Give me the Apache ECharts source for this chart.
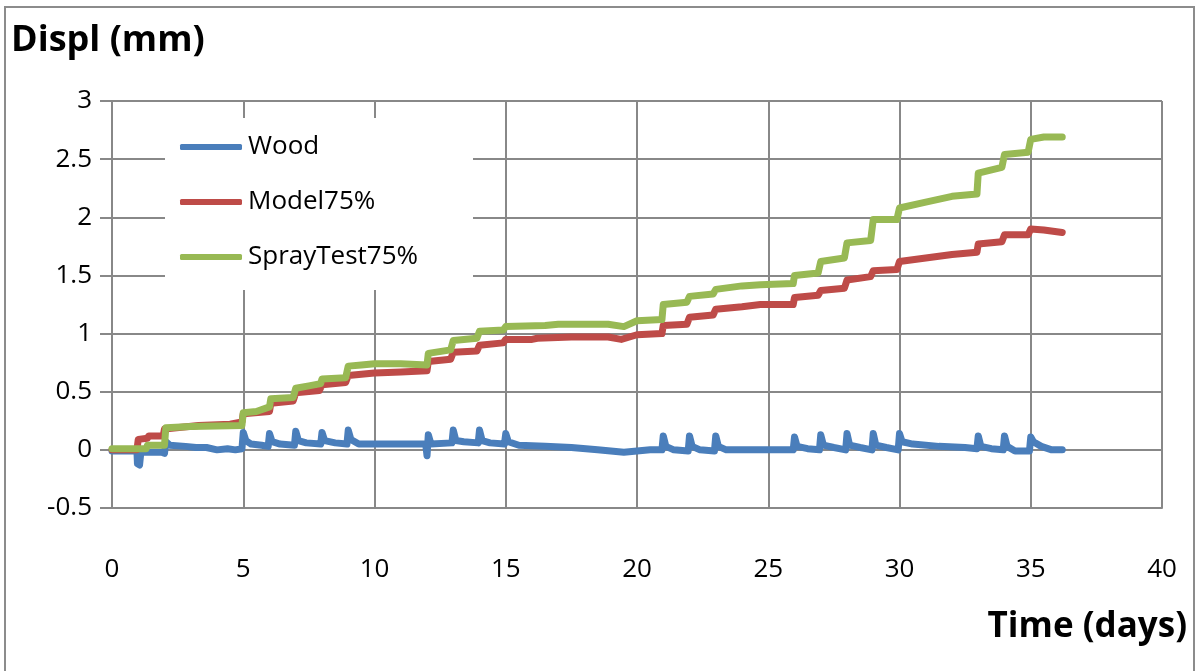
<!DOCTYPE html>
<html>
<head>
<meta charset="utf-8">
<script src="https://cdn.jsdelivr.net/npm/echarts@6/dist/echarts.min.js"></script>
<style>
  html, body { margin: 0; padding: 0; background: #fff; }
  #frame { position: absolute; left: 4px; top: 6px; width: 1191px; height: 720px; border: 2px solid #8c8c8c; box-sizing: border-box; }
  #chart { position: absolute; left: 0; top: 0; width: 1200px; height: 671px; }
</style>
</head>
<body>
<div id="frame"></div>
<div id="chart"></div>
<script>
// Displacement over time, [day, mm] readings
const seriesNames = ['Wood', 'Model75%', 'SprayTest75%'];

const wood = [
  [0, -0.01], [0.95, -0.01], [0.97, -0.12], [1.05, -0.13], [1.1, -0.02], [1.9, -0.02], [2.0, -0.03],
  [2.05, 0.07], [2.2, 0.04], [2.8, 0.03], [3.2, 0.02], [3.6, 0.02], [4.0, 0.0], [4.4, 0.01], [4.7, 0.0],
  [4.95, 0.01], [5.0, 0.15], [5.1, 0.08], [5.3, 0.05], [5.7, 0.04], [5.95, 0.03], [6.0, 0.14], [6.1, 0.07],
  [6.4, 0.05], [6.95, 0.04], [7.0, 0.16], [7.1, 0.08], [7.4, 0.06], [7.95, 0.05], [8.0, 0.15], [8.1, 0.08],
  [8.5, 0.06], [8.95, 0.05], [9.0, 0.17], [9.1, 0.09], [9.4, 0.05], [10, 0.05], [11, 0.05], [11.95, 0.05],
  [12.0, -0.05], [12.05, 0.13], [12.15, 0.05], [12.95, 0.06], [13.0, 0.17], [13.1, 0.08], [13.4, 0.07],
  [13.95, 0.06], [14.0, 0.17], [14.1, 0.08], [14.4, 0.06], [14.95, 0.05], [15.0, 0.14], [15.1, 0.07],
  [15.5, 0.04], [16.5, 0.03], [17.5, 0.02], [18.5, 0.0], [19.5, -0.02], [20.0, -0.01], [20.5, 0.0],
  [20.95, 0.0], [21.0, 0.12], [21.1, 0.03], [21.4, 0.0], [21.95, -0.01], [22.0, 0.12], [22.1, 0.03],
  [22.4, 0.0], [22.95, -0.01], [23.0, 0.12], [23.1, 0.03], [23.4, 0.0], [25.95, 0.0], [26.0, 0.11],
  [26.1, 0.03], [26.5, 0.01], [26.95, 0.0], [27.0, 0.13], [27.1, 0.04], [27.5, 0.02], [27.95, 0.0],
  [28.0, 0.14], [28.1, 0.04], [28.5, 0.02], [28.95, 0.0], [29.0, 0.14], [29.1, 0.04], [29.5, 0.02],
  [29.95, 0.0], [30.0, 0.14], [30.1, 0.07], [30.5, 0.05], [31.5, 0.03], [32.5, 0.02], [32.95, 0.01],
  [33.0, 0.12], [33.1, 0.03], [33.5, 0.01], [33.95, 0.0], [34.0, 0.12], [34.1, 0.03], [34.4, -0.01],
  [34.95, -0.01], [35.0, 0.11], [35.1, 0.07], [35.4, 0.03], [35.8, 0.0], [36.2, 0.0]
];

const model75 = [
  [0, 0.0], [0.95, 0.0], [1.0, 0.09], [1.35, 0.1], [1.4, 0.12], [1.95, 0.12], [2.0, 0.18], [3.3, 0.21],
  [4.5, 0.22], [4.95, 0.24], [5.0, 0.31], [6.0, 0.33], [6.05, 0.4], [6.9, 0.42], [7.0, 0.49], [7.9, 0.51],
  [8.0, 0.56], [8.9, 0.58], [9.0, 0.64], [10.0, 0.66], [11.0, 0.67], [12.0, 0.68], [12.05, 0.76],
  [12.9, 0.78], [13.0, 0.84], [13.9, 0.85], [14.0, 0.9], [14.9, 0.92], [15.0, 0.95], [16.0, 0.95],
  [16.2, 0.96], [17.5, 0.97], [18.9, 0.97], [19.4, 0.95], [20.0, 0.99], [20.95, 1.0], [21.0, 1.07],
  [21.9, 1.08], [22.0, 1.14], [22.9, 1.16], [23.0, 1.21], [24.0, 1.23], [24.7, 1.25], [25.95, 1.25],
  [26.0, 1.31], [26.9, 1.33], [27.0, 1.37], [27.9, 1.39], [28.0, 1.46], [28.9, 1.49], [29.0, 1.54],
  [29.9, 1.55], [30.0, 1.62], [31.0, 1.65], [32.0, 1.68], [32.95, 1.7], [33.0, 1.77], [33.9, 1.79],
  [34.0, 1.85], [34.9, 1.85], [35.0, 1.9], [35.5, 1.89], [36.2, 1.87]
];

const sprayTest75 = [
  [0, 0.01], [1.3, 0.01], [1.35, 0.04], [2.0, 0.04], [2.05, 0.19], [3.0, 0.2], [4.95, 0.21], [5.0, 0.32],
  [5.5, 0.33], [6.0, 0.37], [6.05, 0.44], [6.9, 0.45], [7.0, 0.53], [7.5, 0.55], [7.95, 0.57], [8.0, 0.61],
  [8.9, 0.62], [9.0, 0.72], [9.5, 0.73], [10, 0.74], [11, 0.74], [12.0, 0.73], [12.05, 0.83], [12.9, 0.86],
  [13.0, 0.94], [13.9, 0.96], [14.0, 1.02], [14.9, 1.03], [15.0, 1.06], [16.5, 1.07], [17.0, 1.08],
  [18.9, 1.08], [19.5, 1.06], [20.0, 1.11], [20.95, 1.12], [21.0, 1.25], [21.9, 1.27], [22.0, 1.32],
  [22.9, 1.34], [23.0, 1.38], [24.0, 1.41], [24.7, 1.42], [25.95, 1.43], [26.0, 1.5], [26.9, 1.52],
  [27.0, 1.62], [27.9, 1.65], [28.0, 1.78], [28.9, 1.8], [29.0, 1.98], [29.9, 1.98], [30.0, 2.08],
  [31.0, 2.13], [32.0, 2.18], [32.95, 2.2], [33.0, 2.38], [33.9, 2.43], [34.0, 2.54], [34.9, 2.56],
  [35.0, 2.67], [35.5, 2.69], [36.2, 2.69]
];

const colors = ['#4a7ebb', '#be4b48', '#98b954'];
const FONT = '"Open Sans", sans-serif';

const chart = echarts.init(document.getElementById('chart'), null, { renderer: 'canvas' });

function lineSeries(name, data, color) {
  return {
    name: name,
    type: 'line',
    data: data,
    symbol: 'none',
    showSymbol: false,
    smooth: false,
    color: color,
    lineStyle: { width: 7, color: color, cap: 'round', join: 'round' },
    z: 3
  };
}

chart.setOption({
  animation: false,
  backgroundColor: 'transparent',
  grid: { left: 112, right: 38, top: 101, bottom: 163, containLabel: false },
  xAxis: {
    type: 'value',
    min: 0, max: 40, interval: 5,
    axisLine: { show: true, onZero: false, lineStyle: { color: '#888', width: 2 } },
    axisTick: { show: false },
    splitLine: { show: true, lineStyle: { color: '#888', width: 2 } },
    axisLabel: { color: '#000', fontFamily: FONT, fontSize: 26, margin: 49 }
  },
  yAxis: {
    type: 'value',
    min: -0.5, max: 3, interval: 0.5,
    axisLine: { show: true, lineStyle: { color: '#888', width: 2 } },
    axisTick: { show: true, inside: false, length: 12, lineStyle: { color: '#888', width: 2 } },
    splitLine: { show: true, lineStyle: { color: '#888', width: 2 } },
    axisLabel: { color: '#000', fontFamily: FONT, fontSize: 26, margin: 20 }
  },
  legend: {
    orient: 'vertical',
    left: 180, top: 132, padding: 0,
    icon: 'roundRect',
    itemWidth: 62, itemHeight: 6, itemGap: 25,
    data: seriesNames,
    textStyle: { color: '#000', fontFamily: FONT, fontSize: 26, lineHeight: 30, padding: [0, 0, 0, 1] },
    z: 5
  },
  graphic: [
    { type: 'rect', shape: { x: 165, y: 118, width: 308, height: 172 }, style: { fill: '#fff' }, z: 1, silent: true },
    { type: 'text', left: 11, top: 23, style: { text: 'Displ (mm)', font: 'bold 36px ' + FONT, fill: '#000' }, z: 6 },
    { type: 'text', right: 13, top: 610, style: { text: 'Time (days)', font: 'bold 35px ' + FONT, fill: '#000' }, z: 6 }
  ],
  series: [
    lineSeries(seriesNames[0], wood, colors[0]),
    lineSeries(seriesNames[1], model75, colors[1]),
    lineSeries(seriesNames[2], sprayTest75, colors[2])
  ]
});
</script>
</body>
</html>
